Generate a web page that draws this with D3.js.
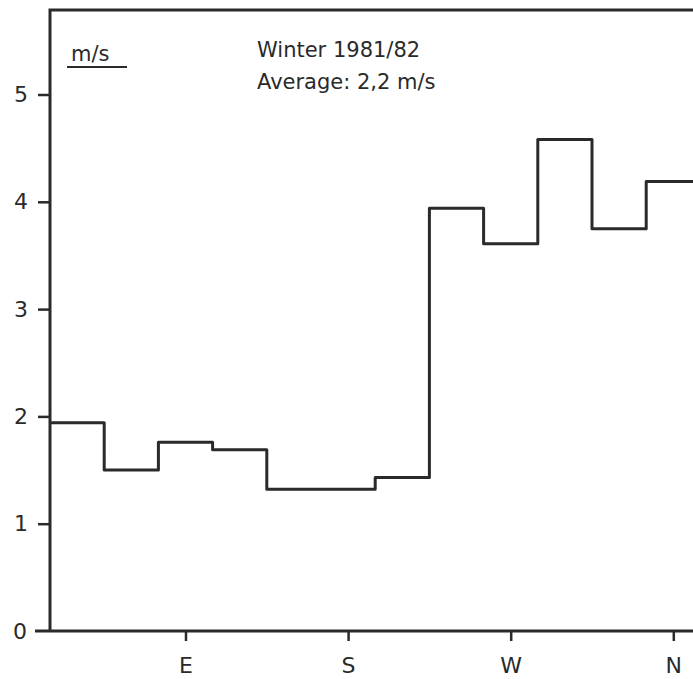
<!DOCTYPE html>
<html>
<head>
<meta charset="utf-8">
<script src="https://cdn.jsdelivr.net/npm/d3@7"></script>
<style>
body { margin: 0; background: #fff; }
text { font-family: "DejaVu Sans", sans-serif; fill: #2a2a2a; }
</style>
</head>
<body>
<div class="chart"></div>
<script>
// wind speed per 30 degree sector (sector centre in degrees)
var directions = [30, 60, 90, 120, 150, 180, 210, 240, 270, 300, 330, 360];
var speeds = [1.94, 1.50, 1.76, 1.69, 1.32, 1.32, 1.43, 3.94, 3.61, 4.58, 3.75, 4.19];
var xTicks = [90, 180, 270, 360];
var xTickLabels = ["E", "S", "W", "N"];
var yTicks = [0, 1, 2, 3, 4, 5];
var unitLabel = "m/s";
var titleLines = ["Winter 1981/82", "Average: 2,2 m/s"];

var svg_w = 693, svg_h = 679;
var ink = "#2a2a2a";
var svg = d3.select("div.chart").append("svg")
.attr("width", svg_w)
.attr("height", svg_h);

var padLeft = 50, padBottom = 631, padTop = 10;

var x = d3.scaleLinear()
.domain([15, 375])
.range([padLeft, padLeft + 12 * 54.2]);

var y = d3.scaleLinear()
.domain([0, 5])
.range([padBottom, 94.5]);

// step line: each sector starts at centre - 15
var pts = directions.map(function(d, i) {
	return [d - 15, speeds[i]];
});
pts.push([directions[directions.length - 1] + 15, speeds[speeds.length - 1]]);

var line = d3.line()
.x(function(d) { return x(d[0]); })
.y(function(d) { return y(d[1]); })
.curve(d3.curveStepAfter);

svg.append("path")
.datum(pts)
.attr("d", line)
.attr("fill", "none")
.attr("stroke", ink)
.attr("stroke-width", 3)
.attr("stroke-linejoin", "round");

// left axis
var yAxis = d3.axisLeft(y)
.tickValues(yTicks.slice(1))
.tickSize(12)
.tickSizeOuter(0)
.tickPadding(10)
.tickFormat(d3.format("d"));

var gy = svg.append("g")
.attr("transform", "translate(" + padLeft + ",0)")
.call(yAxis);
gy.select(".domain").remove();
gy.selectAll(".tick line").attr("stroke", ink).attr("stroke-width", 2.5);
gy.selectAll(".tick text")
.style("font-family", "DejaVu Sans")
.style("font-size", "22px")
.attr("fill", ink);

// bottom axis
var xAxis = d3.axisBottom(x)
.tickValues(xTicks)
.tickSize(10)
.tickSizeOuter(0)
.tickPadding(16)
.tickFormat(function(d, i) { return xTickLabels[i]; });

var gx = svg.append("g")
.attr("transform", "translate(0," + padBottom + ")")
.call(xAxis);
gx.select(".domain").remove();
gx.selectAll(".tick line").attr("stroke", ink).attr("stroke-width", 2.5);
gx.selectAll(".tick text")
.style("font-family", "DejaVu Sans")
.style("font-size", "22px")
.attr("fill", ink);

// frame: left and top lines
svg.append("path")
.attr("d", "M" + padLeft + "," + padBottom + "V" + padTop + "H" + svg_w)
.attr("fill", "none")
.attr("stroke", ink)
.attr("stroke-width", 3);

svg.append("line")
.attr("x1", 35).attr("x2", svg_w)
.attr("y1", padBottom).attr("y2", padBottom)
.attr("stroke", ink)
.attr("stroke-width", 3);

// zero label
svg.append("text")
.attr("x", 27)
.attr("y", y(0))
.attr("dy", "0.35em")
.attr("text-anchor", "end")
.style("font-size", "22px")
.text(yTicks[0]);

// unit label with underline
svg.append("text")
.attr("x", 71)
.attr("y", 61)
.style("font-size", "21px")
.text(unitLabel);

svg.append("line")
.attr("x1", 67).attr("x2", 127)
.attr("y1", 67).attr("y2", 67)
.attr("stroke", ink)
.attr("stroke-width", 2);

// title text
svg.selectAll("text.title")
.data(titleLines)
.enter()
.append("text")
.attr("class", "title")
.attr("x", 257)
.attr("y", function(d, i) { return 57 + i * 32; })
.style("font-size", "21px")
.text(function(d) { return d; });
</script>
</body>
</html>
